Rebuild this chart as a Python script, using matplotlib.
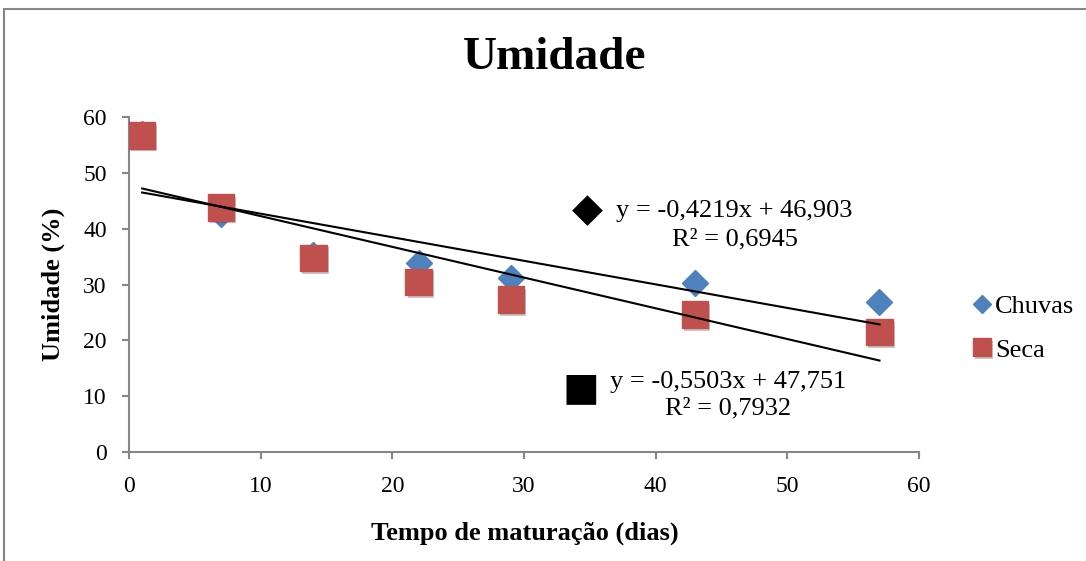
import matplotlib
matplotlib.use("Agg")
import matplotlib.pyplot as plt
import matplotlib.patches as patches
import matplotlib.patheffects as pe
import numpy as np

plt.rcParams['font.family'] = ['Liberation Serif', 'DejaVu Sans']

# data
dias = [1, 7, 14, 22, 29, 43, 57]
chuvas = [57.0, 42.6, 35.2, 33.8, 31.1, 30.3, 26.9]
seca = [56.7, 43.8, 34.8, 30.5, 27.3, 24.6, 21.5]

# trendline coefficients as printed on the chart
chuvas_fit = (-0.4219, 46.903, 0.6945)
seca_fit = (-0.5503, 47.751, 0.7932)
fit_x = [1, 57]

azul = '#4F81BD'
vermelho = '#C0504D'
cinza = '#868686'

fig = plt.figure(figsize=(10.86, 5.61), dpi=100)
ax = fig.add_axes([0.1188, 0.1943, 0.7274, 0.5971])

sombra = [pe.SimplePatchShadow(offset=(1.5, -2), alpha=0.25), pe.Normal()]
ax.plot(dias, chuvas, linestyle='none', marker='D', ms=13.5, color=azul,
        label='Chuvas', zorder=3)
ax.plot(dias, seca, linestyle='none', marker='s', ms=19, color=vermelho,
        label='Seca', zorder=4, path_effects=sombra)

fx = np.array(fit_x)
ax.plot(fx, chuvas_fit[0] * fx + chuvas_fit[1], color='black', lw=1.5, zorder=5)
ax.plot(fx, seca_fit[0] * fx + seca_fit[1], color='black', lw=1.5, zorder=5)

def fmt(v, casas):
    return f"{v:.{casas}f}".replace('.', ',')

eq1 = f"y = {fmt(chuvas_fit[0], 4)}x + {fmt(chuvas_fit[1], 3)}\nR² = {fmt(chuvas_fit[2], 4)}"
eq2 = f"y = {fmt(seca_fit[0], 4)}x + {fmt(seca_fit[1], 3)}\nR² = {fmt(seca_fit[2], 4)}"
ax.text(46.0, 40.6, eq1, ha='center', va='center', fontsize=19, linespacing=1.38)
ax.text(45.5, 10.1, eq2, ha='center', va='center', fontsize=19, linespacing=1.25)
ax.text(34.8, 43.3, '◆', family='DejaVu Sans', ha='center', va='center', fontsize=29)
ax.text(34.3, 11.4, '■', family='DejaVu Sans', ha='center', va='center', fontsize=28)

ax.set_xlim(0, 60)
ax.set_ylim(0, 60)
ax.set_xticks(range(0, 61, 10))
ax.set_yticks(range(0, 61, 10))
ax.tick_params(axis='both', labelsize=17, color=cinza, width=1.5, length=5, direction='out')
ax.tick_params(axis='x', pad=12)
ax.tick_params(axis='y', pad=11)
for s in ['top', 'right']:
    ax.spines[s].set_visible(False)
for s in ['left', 'bottom']:
    ax.spines[s].set_color(cinza)
    ax.spines[s].set_linewidth(1.5)

ax.set_xlabel('Tempo de maturação (dias)', fontsize=19, fontweight='bold')
ax.set_ylabel('Umidade (%)', fontsize=19, fontweight='bold')
ax.xaxis.set_label_coords(0.501, -0.209)
ax.yaxis.set_label_coords(-0.081, 0.5)

fig.text(0.511, 0.897, 'Umidade', ha='center', va='center', fontsize=34, fontweight='bold')

ax.legend(loc='center left', bbox_to_anchor=(0.8946, 0.415), bbox_transform=fig.transFigure,
          frameon=False, prop={'family': 'Liberation Serif', 'size': 19},
          borderpad=0, borderaxespad=0, handlelength=0.8, handletextpad=0.1,
          labelspacing=0.75, markerscale=0.68)

fig.patches.append(patches.Rectangle((4 / 1086, -0.1), 1.2, 1.1 - 9.5 / 561,
                                     transform=fig.transFigure, fill=False,
                                     edgecolor=cinza, lw=1.5))

fig.savefig('out.png', dpi=100)
